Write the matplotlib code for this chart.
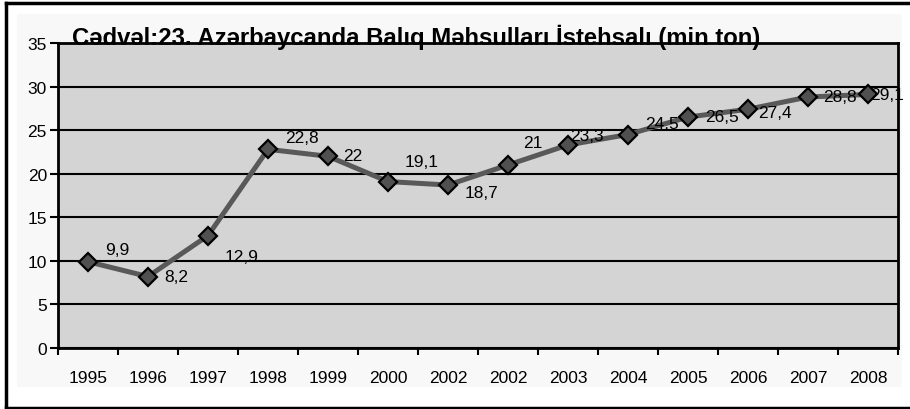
import matplotlib.pyplot as plt
from matplotlib.patches import Rectangle
from matplotlib.lines import Line2D
import numpy as np

plt.rcParams['font.family'] = ['Liberation Sans', 'DejaVu Sans']

# data (min ton)
years = ["1995", "1996", "1997", "1998", "1999", "2000", "2002",
         "2002", "2003", "2004", "2005", "2006", "2007", "2008"]
values = [9.9, 8.2, 12.9, 22.8, 22.0, 19.1, 18.7,
          21.0, 23.3, 24.5, 26.5, 27.4, 28.8, 29.1]
value_labels = ["9,9", "8,2", "12,9", "22,8", "22", "19,1", "18,7",
                "21", "23,3", "24,5", "26,5", "27,4", "28,8", "29,1"]
# label offsets in pixels (dx, dy), as placed in the original
label_offsets = [(29, 12), (28, 0), (34, -21), (34, 12), (25, 1), (34, 20), (34, -7),
                 (25, 23), (19, 9), (34, 11), (34, 1), (27, -3), (32, 1), (19, 0)]

W, H = 910, 410
fig = plt.figure(figsize=(W / 100, H / 100), dpi=100)
fig.patch.set_facecolor("white")

# light chart area and outer frame
fig.patches.append(Rectangle((17 / W, 1 - 388 / H), (902 - 17) / W, (388 - 15) / H,
                             transform=fig.transFigure, facecolor="#f8f8f8",
                             edgecolor="none", zorder=-5))
for xs, ys in [((5.5 / W, 5.5 / W), (0, 1 - 4 / H)),
               ((5.5 / W, 1), (1 - 4 / H, 1 - 4 / H)),
               ((5.5 / W, 1), (1 - 408.5 / H, 1 - 408.5 / H))]:
    fig.lines.append(Line2D(xs, ys, transform=fig.transFigure, color="black", lw=2.5, zorder=-4))

ax = fig.add_axes([58 / W, 1 - 349 / H, (898 - 58) / W, (349 - 44) / H])
ax.set_facecolor("#d4d4d4")

x = np.arange(len(years))
ax.plot(x, values, color="#595959", lw=3.6, zorder=3,
        marker="D", markersize=9.5, markerfacecolor="#505050",
        markeredgecolor="black", markeredgewidth=1.6)

for xi, v, lab, (dx, dy) in zip(x, values, value_labels, label_offsets):
    ax.annotate(lab, (xi, v), xytext=(dx * 0.72, dy * 0.72), textcoords="offset points",
                ha="center", va="center", fontsize=12.5, color="black", zorder=4)

ax.set_xlim(-0.5, len(years) - 0.5)
ax.set_ylim(0, 35)
ax.set_yticks(np.arange(0, 36, 5))
ax.set_xticks(x)
ax.set_xticklabels(years, fontsize=12.5)
ax.set_xticks(np.arange(-0.5, len(years), 1), minor=True)
ax.tick_params(axis="x", which="major", length=0, pad=16)
ax.tick_params(axis="x", which="minor", length=5, width=1.5, direction="out")
ax.tick_params(axis="y", length=6, width=1.5, direction="out", labelsize=12.5, pad=2)

ax.yaxis.grid(True, color="black", lw=1.5)
ax.set_axisbelow(True)
for s in ax.spines.values():
    s.set_linewidth(2)
    s.set_color("black")

fig.text(72 / W, 1 - 45 / H, "Cədvəl:23. Azərbaycanda Balıq Məhsulları İstehsalı (min ton)",
         fontsize=17.2, fontweight="bold", ha="left", va="baseline", zorder=1)

fig.savefig("out.png", dpi=100, facecolor=fig.get_facecolor())
